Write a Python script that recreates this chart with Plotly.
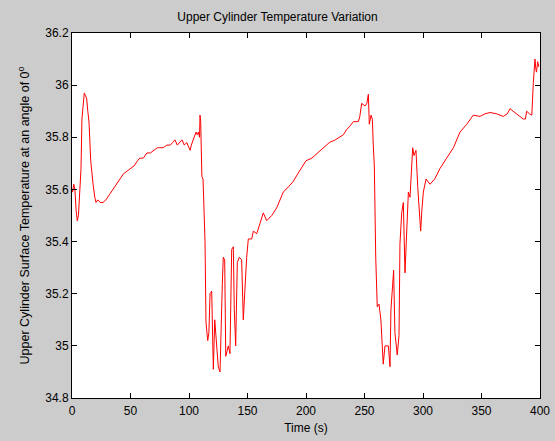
import plotly.graph_objects as go

time_s = [0, 0.5, 1.5, 2.5, 3.5, 4.5, 5.5, 6.5, 7.7, 8.5, 9.5, 10.5, 11.5, 12.5, 13.5, 14.5,
          16, 17, 18, 19.5, 20.5, 22, 24, 26.5, 29, 32, 35, 38, 41, 44, 47, 50, 53, 56, 58,
          61, 64, 67, 70, 73, 75, 78, 81, 84, 86, 88, 90, 92, 94, 96, 98, 100, 101, 102, 104,
          106, 107, 108, 109, 109.4, 110, 111, 112, 113.7, 114.5, 116, 117, 118, 119.4, 120,
          120.8, 122, 123.7, 125, 126.5, 127.4, 128.5, 129.3, 130.5, 131.4, 133.6, 135, 135.6,
          136.5, 137.9, 138.7, 139.9, 141.3, 143, 145, 146.4, 148, 149.3, 150.7, 153.6, 155,
          157.9, 160.7, 163.5, 166.4, 170.7, 175, 180.6, 185, 189, 193, 197, 200, 205, 210,
          215, 220, 225, 229, 232, 234.8, 237, 240.5, 244.7, 246, 247.6, 250.4, 252, 253.3,
          254.1, 255.6, 256.7, 257.5, 258.4, 259.6, 260.9, 262.4, 264, 265.2, 266, 267.5,
          270.4, 271.8, 272.6, 274, 274.9, 276, 278, 279.5, 280.3, 281.8, 283.2, 284.6, 286,
          287.5, 288.9, 290.3, 291.2, 292.3, 294, 295.5, 296.8, 298, 299, 300.3, 302.6, 306,
          310, 314.5, 320.2, 326, 331.6, 337.4, 343, 348.7, 353, 357.3, 363, 368.6, 372,
          374.4, 377, 380, 383, 385.7, 387.5, 388.6, 391, 393, 394.3, 395.7, 396.5, 397, 398, 399]

temperature = [35.60, 35.59, 35.62, 35.60, 35.52, 35.48, 35.50, 35.58, 35.68, 35.87, 35.93,
               35.97, 35.96, 35.95, 35.90, 35.86, 35.71, 35.66, 35.62, 35.57, 35.55, 35.56,
               35.55, 35.55, 35.56, 35.58, 35.60, 35.62, 35.64, 35.66, 35.67, 35.68, 35.69,
               35.71, 35.72, 35.72, 35.74, 35.74, 35.75, 35.76, 35.76, 35.76, 35.77, 35.77,
               35.78, 35.79, 35.77, 35.78, 35.79, 35.77, 35.78, 35.76, 35.75, 35.77, 35.80,
               35.82, 35.81, 35.82, 35.80, 35.885, 35.86, 35.65, 35.64, 35.40, 35.09, 35.02,
               35.05, 35.20, 35.21, 35.10, 34.91, 35.10, 34.99, 34.92, 34.90, 35.11, 35.24,
               35.34, 35.33, 34.96, 35.00, 34.97, 35.17, 35.37, 35.38, 35.14, 35.00, 35.32,
               35.34, 35.33, 35.10, 35.27, 35.34, 35.41, 35.41, 35.44, 35.43, 35.47, 35.51,
               35.48, 35.50, 35.53, 35.59, 35.61, 35.63, 35.66, 35.69, 35.71, 35.72, 35.74,
               35.76, 35.78, 35.79, 35.80, 35.81, 35.83, 35.84, 35.86, 35.86, 35.88, 35.93,
               35.92, 35.93, 35.965, 35.85, 35.885, 35.87, 35.77, 35.69, 35.34, 35.15, 35.16,
               35.10, 35.00, 34.93, 35.00, 35.00, 34.92, 35.14, 35.23, 35.29, 35.05, 34.965,
               35.04, 35.39, 35.51, 35.55, 35.28, 35.43, 35.59, 35.57, 35.70, 35.76, 35.73,
               35.75, 35.61, 35.52, 35.44, 35.52, 35.59, 35.64, 35.62, 35.64, 35.68, 35.72,
               35.76, 35.82, 35.85, 35.885, 35.88, 35.89, 35.895, 35.89, 35.88, 35.89, 35.91,
               35.90, 35.89, 35.88, 35.87, 35.87, 35.90, 35.89, 35.885, 36.01, 36.10, 36.06,
               36.05, 36.09, 36.07]

x_ticks = [0, 50, 100, 150, 200, 250, 300, 350, 400]
y_ticks = [34.8, 35, 35.2, 35.4, 35.6, 35.8, 36, 36.2]
y_tick_text = ["34.8", "35", "35.2", "35.4", "35.6", "35.8", "36", "36.2"]

fig = go.Figure()
fig.add_trace(go.Scatter(x=time_s, y=temperature, mode="lines",
                         line=dict(color="#ff0000", width=1),
                         showlegend=False))

font_family = "Liberation Sans, Arial, sans-serif"
fig.update_layout(
    width=555, height=441,
    paper_bgcolor="#cccccc", plot_bgcolor="#ffffff",
    margin=dict(l=72, r=15, t=33, b=43, autoexpand=False),
    font=dict(family=font_family, size=12, color="#000000"),
    title=dict(text="Upper Cylinder Temperature Variation", x=0.5, xanchor="center",
               y=1 - 17 / 441, yanchor="middle", font=dict(size=12)),
    xaxis=dict(range=[0, 400], tickvals=x_ticks, ticks="inside", ticklen=5,
               tickcolor="#000000", showline=True, linecolor="#000000", linewidth=1,
               mirror="allticks", showgrid=False, zeroline=False, automargin=False,
               ticklabelstandoff=2,
               title=dict(text="Time (s)", standoff=6, font=dict(size=12))),
    yaxis=dict(range=[34.8, 36.2], tickvals=y_ticks, ticktext=y_tick_text, ticks="inside",
               ticklen=5, tickcolor="#000000", showline=True, linecolor="#000000",
               linewidth=1, mirror="allticks", showgrid=False, zeroline=False,
               automargin=False,
               title=dict(text="Upper Cylinder Surface Temperature at an angle of 0<sup>o</sup>",
                          standoff=12, font=dict(size=12.5))),
)

fig.write_html("out.html")
